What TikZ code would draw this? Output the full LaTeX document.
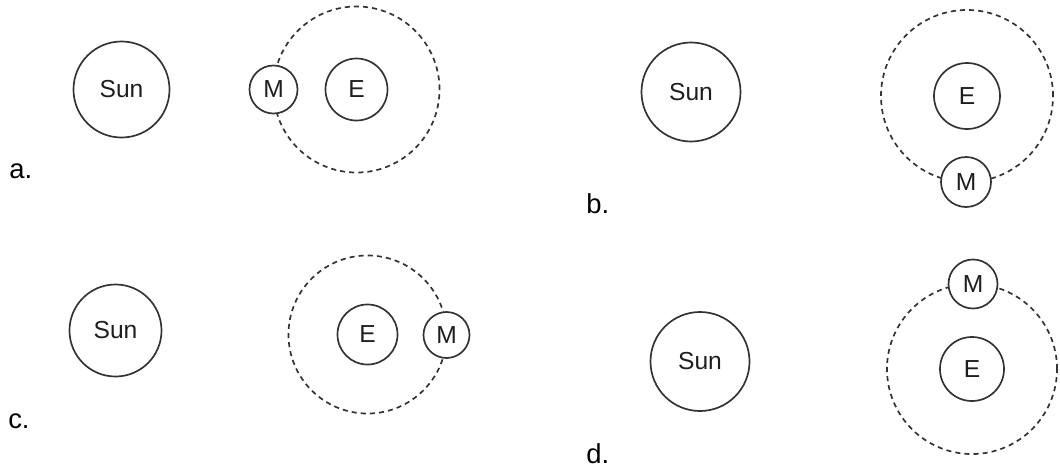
\documentclass[tikz,border=0pt]{standalone}
\usepackage{fontspec}
\setmainfont{Liberation Sans}
\usepackage{tikz}
\definecolor{linegray}{HTML}{333333}
\definecolor{textgray}{HTML}{1E1E1E}
\tikzset{
  body/.style={circle,draw=linegray,line width=1.2pt,inner sep=0pt,text=textgray,font=\fontsize{17.5}{20}\selectfont},
  moon/.style={body,fill=white},
  orbit/.style={draw=linegray,line width=1.2pt,dash pattern=on 3.6pt off 2.9pt},
  tag/.style={anchor=base west,inner sep=0pt,text=black,font=\fontsize{19.5}{22}\selectfont}
}
\begin{document}
\begin{tikzpicture}[x=0.025cm,y=-0.025cm]
\useasboundingbox (0,0) rectangle (1060,468);
% a.
\node[body,minimum size=2.4cm] (suna) at (121.5,89.5) {Sun};
\node[body,minimum size=1.55cm] (ea) at (356.5,89.5) {E};
\draw[orbit] (ea) circle[radius=2.075cm];
\node[moon,minimum size=1.2cm] (ma) at (273.5,89.5) {M};
\node[tag] (laba) at (9,178) {a.};
% b.
\node[body,minimum size=2.475cm] (sunb) at (691,92) {Sun};
\node[body,minimum size=1.65cm] (eb) at (967,96) {E};
\draw[orbit] (eb) circle[radius=2.15cm];
\node[moon,minimum size=1.25cm] (mb) at (966,182) {M};
\node[tag] (labb) at (586,213) {b.};
% c.
\node[body,minimum size=2.3cm] (sunc) at (115.5,330.5) {Sun};
\node[body,minimum size=1.5cm] (ec) at (367.5,334.5) {E};
\draw[orbit] (ec) circle[radius=1.975cm];
\node[moon,minimum size=1.15cm] (mc) at (446.5,335) {M};
\node[tag] (labc) at (8,428) {c.};
% d.
\node[body,minimum size=2.475cm] (sund) at (700,361.5) {Sun};
\node[body,minimum size=1.6cm] (ed) at (972,369) {E};
\draw[orbit] (ed) circle[radius=2.125cm];
\node[moon,minimum size=1.225cm] (md) at (973,284) {M};
\node[tag] (labd) at (586,463) {d.};
\end{tikzpicture}
\end{document}
